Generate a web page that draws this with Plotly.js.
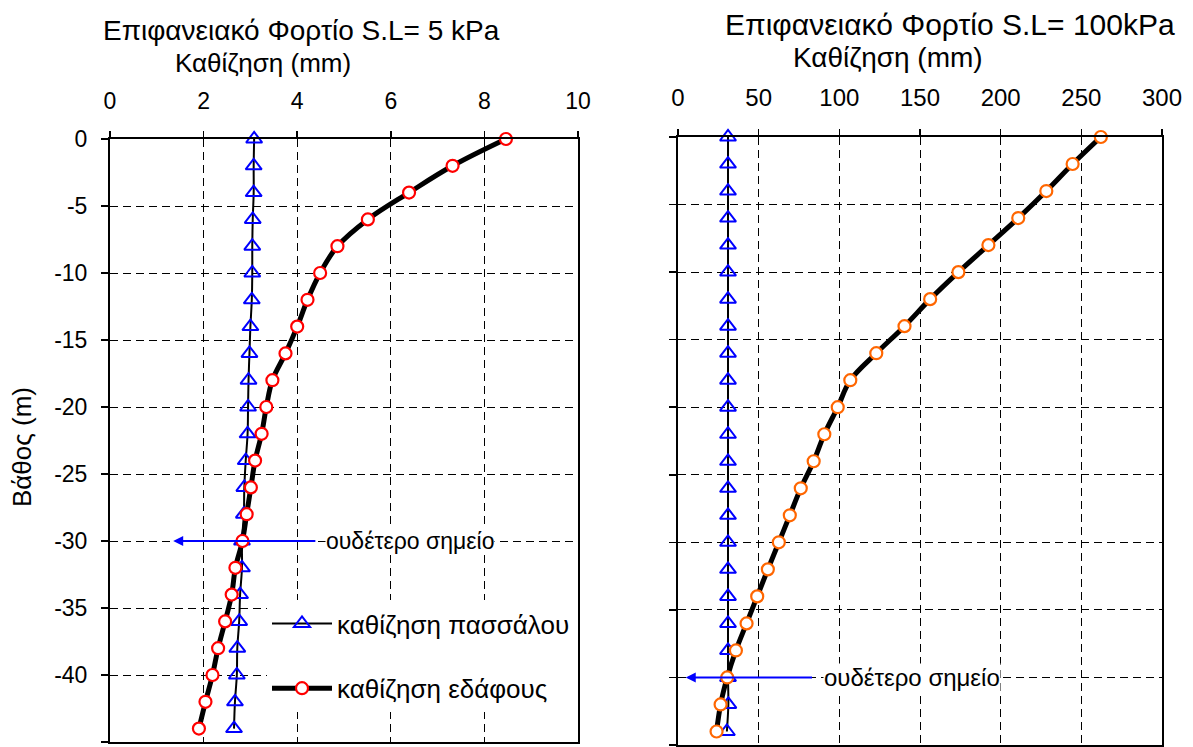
<!DOCTYPE html>
<html>
<head>
<meta charset="utf-8">
<script src="https://cdn.plot.ly/plotly-3.0.1.min.js"></script>
<style>html,body{margin:0;padding:0;background:#fff;}#chart{width:1193px;height:747px;}</style>
</head>
<body>
<div id="chart"></div>
<script>
// Depth (m)
const depth = [0,-2,-4,-6,-8,-10,-12,-14,-16,-18,-20,-22,-24,-26,-28,-30,-32,-34,-36,-38,-40,-42,-44];
// Left panel: S.L = 5 kPa, settlement (mm)
const pileLeft = [3.08,3.07,3.07,3.05,3.04,3.04,3.03,3.00,2.98,2.96,2.95,2.94,2.90,2.87,2.86,2.82,2.82,2.78,2.76,2.72,2.71,2.67,2.65];
const soilLeft = [8.46,7.32,6.39,5.51,4.86,4.49,4.22,4.00,3.75,3.47,3.34,3.24,3.10,3.01,2.92,2.83,2.68,2.60,2.46,2.31,2.19,2.04,1.90];
// Right panel: S.L = 100 kPa, settlement (mm)
const pileRight = [31.0,31.0,31.0,31.0,31.0,31.0,31.0,31.0,31.0,31.0,31.0,31.0,31.0,31.0,31.0,31.0,31.0,31.0,31.0,31.0,31.0,31.2,30.3];
const soilRight = [262.1,244.6,228.3,210.9,192.4,173.8,156.3,140.4,122.9,106.8,99.0,90.7,84.1,76.1,69.3,62.5,55.7,49.1,42.5,35.9,30.5,26.4,23.9];
// Depth axis ticks
const yTickVals = [0,-5,-10,-15,-20,-25,-30,-35,-40,-45];
const yTickText = ["0","-5","-10","-15","-20","-25","-30","-35","-40","-45"];
// Neutral points (depth, m)
const neutralLeft = -30;
const neutralRight = -40;
// Texts
const titleLeft = "Επιφανειακό Φορτίο S.L= 5 kPa";
const titleRight = "Επιφανειακό Φορτίο S.L= 100kPa";
const xTitle = "Καθίζηση (mm)";
const yTitle = "Βάθος (m)";
const pileName = "καθίζηση πασσάλου";
const soilName = "καθίζηση εδάφους";
const neutralText = "ουδέτερο σημείο";

const FONT = "Liberation Sans, Arial, sans-serif";
const W = 1193, H = 747;
const px = v => v / W, py = v => 1 - v / H;

function pileTrace(x, xa, ya, show) {
  return {x: x, y: depth, xaxis: xa, yaxis: ya, type: 'scatter', mode: 'lines+markers',
    name: pileName, showlegend: show, legendgroup: 'a',
    line: {color: '#000', width: 2, shape: 'spline', smoothing: 1},
    marker: {symbol: 'triangle-up-open', size: 14, color: '#0000FF', line: {color: '#0000FF', width: 2}},
    cliponaxis: false};
}
function soilTrace(x, xa, ya, col, show) {
  return {x: x, y: depth, xaxis: xa, yaxis: ya, type: 'scatter', mode: 'lines+markers',
    name: soilName, showlegend: show, legendgroup: 'b',
    line: {color: '#000', width: 5, shape: 'spline', smoothing: 1},
    marker: {symbol: 'circle', size: 12, color: '#fff', line: {color: col, width: 2.2}},
    cliponaxis: false};
}

const data = [
  pileTrace(pileLeft, 'x', 'y', true),
  soilTrace(soilLeft, 'x', 'y', '#FF0000', true),
  pileTrace(pileRight, 'x2', 'y2', false),
  soilTrace(soilRight, 'x2', 'y2', '#FF6600', false)
];

const gridDash = '8px,5px';
function xAxis(domain, range, dtick, anchor, fs) {
  return {domain: domain, range: range, dtick: dtick, tick0: 0, side: 'top', anchor: anchor,
    showline: true, linecolor: '#000', linewidth: 2, mirror: true,
    ticks: 'outside', ticklen: 6, tickwidth: 1.5, tickcolor: '#000',
    ticklabelstandoff: 13,
    showgrid: true, gridcolor: '#000', gridwidth: 1, griddash: gridDash,
    zeroline: false, tickfont: {family: FONT, size: fs, color: '#000'}};
}
function yAxis(domain, anchor, labels) {
  return {domain: domain, range: [-45, 0], tickmode: 'array', tickvals: yTickVals, ticktext: yTickText, anchor: anchor,
    showline: true, linecolor: '#000', linewidth: 2, mirror: true,
    ticks: 'outside', ticklen: 7, tickwidth: 1.5, tickcolor: '#000',
    showticklabels: labels, ticklabelstandoff: 9,
    showgrid: true, gridcolor: '#000', gridwidth: 1, griddash: gridDash,
    zeroline: false, tickfont: {family: FONT, size: 23, color: '#000'}};
}

const annFont = s => ({family: FONT, size: s, color: '#000'});
const layout = {
  width: W, height: H,
  margin: {l: 0, r: 0, t: 0, b: 0},
  paper_bgcolor: '#fff', plot_bgcolor: '#fff',
  xaxis: xAxis([px(110), px(578)], [0, 10], 2, 'y', 23),
  yaxis: yAxis([py(742), py(139)], 'x', true),
  xaxis2: xAxis([px(678), px(1162)], [0, 300], 50, 'y2', 24),
  yaxis2: yAxis([py(745), py(137)], 'x2', false),
  showlegend: true,
  legend: {x: px(267), y: py(600), xanchor: 'left', yanchor: 'top',
    bgcolor: '#fff', borderwidth: 0, font: {family: FONT, size: 26, color: '#000'},
    tracegroupgap: 28, itemwidth: 60},
  annotations: [
    {text: titleLeft, xref: 'paper', yref: 'paper', x: px(301), y: py(30), showarrow: false, font: annFont(28), xanchor: 'center', yanchor: 'middle'},
    {text: xTitle, xref: 'paper', yref: 'paper', x: px(263), y: py(63), showarrow: false, font: annFont(26), xanchor: 'center', yanchor: 'middle'},
    {text: titleRight, xref: 'paper', yref: 'paper', x: px(950), y: py(25), showarrow: false, font: annFont(30), xanchor: 'center', yanchor: 'middle'},
    {text: xTitle, xref: 'paper', yref: 'paper', x: px(888), y: py(58), showarrow: false, font: annFont(28), xanchor: 'center', yanchor: 'middle'},
    {text: yTitle, xref: 'paper', yref: 'paper', x: px(22), y: py(447), showarrow: false, font: annFont(26), textangle: -90, xanchor: 'center', yanchor: 'middle'},
    // neutral point arrows
    {text: '', xref: 'x', yref: 'y', x: 1.35, y: neutralLeft, axref: 'x', ayref: 'y', ax: 4.42, ay: neutralLeft,
     showarrow: true, arrowhead: 2, arrowsize: 1, arrowwidth: 2, arrowcolor: '#0000FF', standoff: 0, startstandoff: 0},
    {text: neutralText, xref: 'x', yref: 'y', x: 4.6, y: neutralLeft, showarrow: false, xanchor: 'left', yanchor: 'middle',
     bgcolor: '#fff', font: annFont(23), borderpad: 0},
    {text: '', xref: 'x2', yref: 'y2', x: 4.8, y: neutralRight, axref: 'x2', ayref: 'y2', ax: 84, ay: neutralRight,
     showarrow: true, arrowhead: 2, arrowsize: 1, arrowwidth: 2, arrowcolor: '#0000FF', standoff: 0, startstandoff: 0},
    {text: neutralText, xref: 'x2', yref: 'y2', x: 90, y: neutralRight, showarrow: false, xanchor: 'left', yanchor: 'middle',
     bgcolor: '#fff', font: annFont(24), borderpad: 0}
  ]
};

Plotly.newPlot('chart', data, layout, {staticPlot: true, displayModeBar: false});
</script>
</body>
</html>
